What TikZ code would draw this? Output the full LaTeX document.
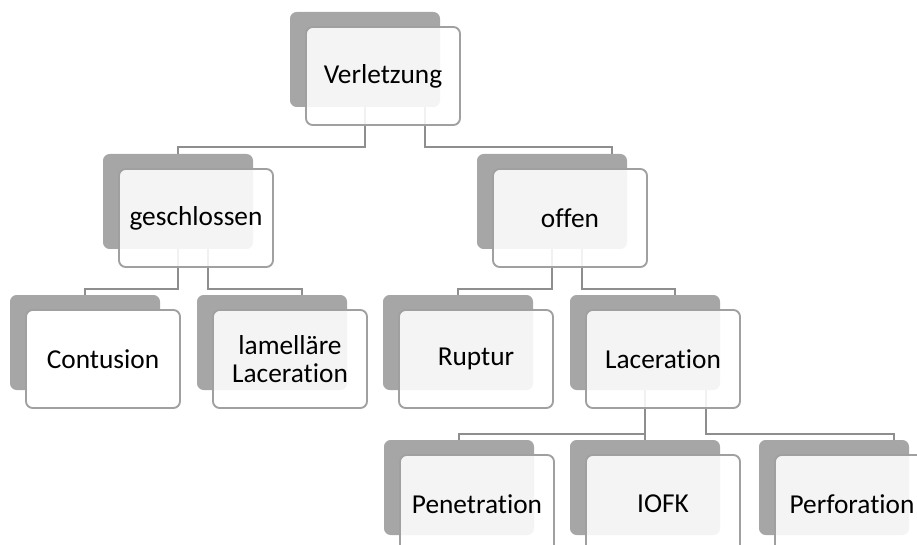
\documentclass[tikz,border=0pt]{standalone}
\usepackage{fontspec}
\setmainfont{Carlito}[Ligatures=NoCommon]
\usetikzlibrary{backgrounds}
\definecolor{shade}{RGB}{166,166,166}
\definecolor{rim}{RGB}{160,160,160}
\definecolor{wire}{RGB}{142,142,142}

\begin{document}
\begin{tikzpicture}[x=0.75pt,y=-0.75pt,
    back/.style={fill=shade, rounded corners=5pt, minimum width=112.5pt,
        minimum height=71.25pt, inner sep=0pt},
    card/.style={draw=rim, line width=1.4pt, fill=white, fill opacity=0.88,
        text opacity=1, rounded corners=5pt, minimum width=115.5pt,
        minimum height=73.5pt, inner sep=0pt, align=center,
        font=\fontsize{20.5}{21}\selectfont, shift={(18,16.5)}},
    solidcard/.style={card, fill opacity=1},
    link/.style={draw=wire, line width=1.5pt}]

    \useasboundingbox (0,0) rectangle (917,545);

    % Top level
    \node[back] (verB) at (365,59.5) {};
    \node[card] (ver) at (verB) {Verletzung};

    % Second level
    \node[back] (gesB) at (178,201.5) {};
    \node[card] (ges) at (gesB) {geschlossen};
    \node[back] (offB) at (552,201.5) {};
    \node[card] (off) at (offB) {offen};

    % Third level
    \node[back] (conB) at (85,342.5) {};
    \node[solidcard] (con) at (conB) {Contusion};
    \node[back] (lamB) at (272,342.5) {};
    \node[card] (lam) at (lamB) {lamelläre\\Laceration};
    \node[back] (rupB) at (458,342.5) {};
    \node[card] (rup) at (rupB) {Ruptur};
    \node[back] (lacB) at (645,342.5) {};
    \node[card] (lac) at (lacB) {Laceration};

    % Fourth level
    \node[back] (penB) at (459,487.5) {};
    \node[card] (pen) at (penB) {Penetration};
    \node[back] (iofB) at (645,487.5) {};
    \node[card] (iof) at (iofB) {IOFK};
    \node[back] (perB) at (834,487.5) {};
    \node[card] (per) at (perB) {Perforation};

    % Connectors
    \begin{scope}[on background layer]
        \draw[link] (verB.south) -- ++(0,40) -| (gesB.north);
        \draw[link] ([shift={(60,0)}]verB.south) -- ++(0,40) -| ([shift={(60,0)}]offB.north);
        \draw[link] (gesB.south) -- ++(0,40) -| (conB.north);
        \draw[link] ([shift={(30,0)}]gesB.south) -- ++(0,40) -| ([shift={(30,0)}]lamB.north);
        \draw[link] (offB.south) -- ++(0,40) -| (rupB.north);
        \draw[link] ([shift={(30,0)}]offB.south) -- ++(0,40) -| ([shift={(30,0)}]lacB.north);
        \draw[link] (lacB.south) -- ++(0,44) -| (penB.north);
        \draw[link] (lacB.south) -- (iofB.north);
        \draw[link] ([shift={(61,0)}]lacB.south) -- ++(0,44) -| ([shift={(60,0)}]perB.north);
    \end{scope}

\end{tikzpicture}
\end{document}
